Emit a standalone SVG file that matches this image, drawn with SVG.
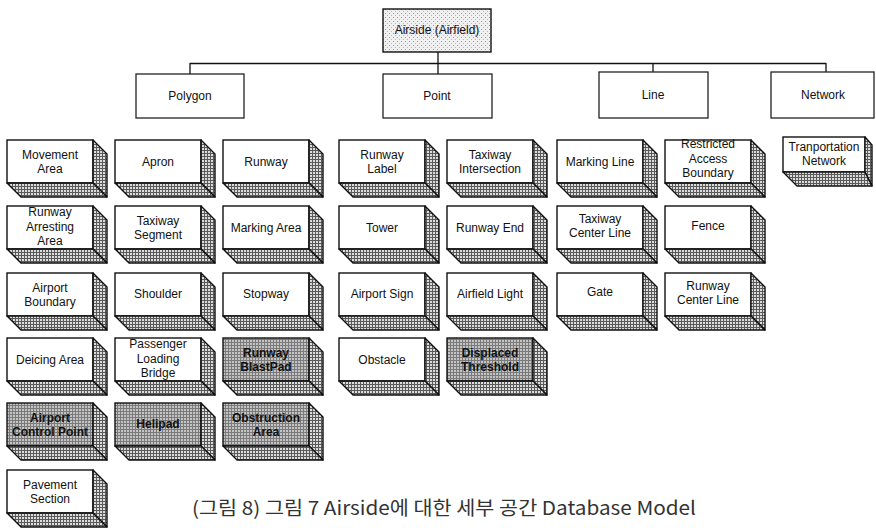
<svg xmlns="http://www.w3.org/2000/svg" width="876" height="528" viewBox="0 0 876 528">
<defs>
<pattern id="hatch" width="3" height="3" patternUnits="userSpaceOnUse"><rect width="3" height="3" fill="#dcdcdc"/><path d="M0 0.5H3M0.5 0V3" stroke="#5a5a5a" stroke-width="1"/></pattern>
<pattern id="shade" width="3" height="3" patternUnits="userSpaceOnUse"><rect width="3" height="3" fill="#c4c4c4"/><path d="M0 0.5H3M0.5 0V3" stroke="#7a7a7a" stroke-width="1"/></pattern>
<pattern id="dots" width="4" height="4" patternUnits="userSpaceOnUse"><rect width="4" height="4" fill="#f0f0f0"/><rect x="1" y="1" width="1" height="1" fill="#9a9a9a"/><rect x="3" y="3" width="1" height="1" fill="#b8b8b8"/></pattern>
</defs>
<style>
.f{fill:#fff;stroke:#111;stroke-width:1.4}
.fs{fill:url(#shade);stroke:#111;stroke-width:1.4}
.s{fill:url(#hatch);stroke:#111;stroke-width:1.4;stroke-linejoin:round}
.c{fill:#fff;stroke:#222;stroke-width:1.3}
.t{font-family:"Liberation Sans",Arial,sans-serif;font-size:12px;fill:#111;text-anchor:middle}
.tb{font-family:"Liberation Sans",Arial,sans-serif;font-size:12px;fill:#111;text-anchor:middle;font-weight:bold}
.cap{font-family:"Noto Sans CJK KR","Noto Sans",sans-serif;font-size:19px;fill:#333}
.ln{fill:none;stroke:#111;stroke-width:1.3}
</style>
<rect width="876" height="528" fill="#fff"/>

<g id="connectors">
<path class="ln" d="M190 63.5H826M190 63V74M438 52V74M653 63V72M826 63V72"/>
</g>

<g id="airside"><rect x="383" y="9" width="108" height="43" fill="url(#dots)" stroke="#111" stroke-width="1.4"/><text class="t" x="437" y="34">Airside (Airfield)</text></g>
<g id="polygon"><rect class="c" x="136" y="74" width="108" height="44"/><text class="t" x="190" y="100">Polygon</text></g>
<g id="point"><rect class="c" x="383" y="74" width="109" height="44"/><text class="t" x="437" y="100">Point</text></g>
<g id="line"><rect class="c" x="599" y="72" width="109" height="46"/><text class="t" x="653" y="99">Line</text></g>
<g id="network"><rect class="c" x="771" y="72" width="103" height="46"/><text class="t" x="823" y="99">Network</text></g>

<!-- Column 1 -->
<g id="movement-area"><rect class="f" x="7" y="140" width="86" height="43"/><polygon class="s" points="93,140 107,154 107,197 93,183"/><polygon class="s" points="7,183 93,183 107,197 21,197"/><text class="t" x="50" y="158.5">Movement</text><text class="t" x="50" y="172.5">Area</text></g>
<g id="runway-arresting-area"><rect class="f" x="7" y="206" width="86" height="43"/><polygon class="s" points="93,206 107,220 107,263 93,249"/><polygon class="s" points="7,249 93,249 107,263 21,263"/><text class="t" x="50" y="216">Runway</text><text class="t" x="50" y="230.5">Arresting</text><text class="t" x="50" y="245">Area</text></g>
<g id="airport-boundary"><rect class="f" x="7" y="273" width="86" height="43"/><polygon class="s" points="93,273 107,287 107,330 93,316"/><polygon class="s" points="7,316 93,316 107,330 21,330"/><text class="t" x="50" y="291.5">Airport</text><text class="t" x="50" y="305.5">Boundary</text></g>
<g id="deicing-area"><rect class="f" x="7" y="338" width="86" height="43"/><polygon class="s" points="93,338 107,352 107,395 93,381"/><polygon class="s" points="7,381 93,381 107,395 21,395"/><text class="t" x="50" y="364">Deicing Area</text></g>
<g id="airport-control-point"><rect class="fs" x="7" y="403" width="86" height="43"/><polygon class="s" points="93,403 107,417 107,460 93,446"/><polygon class="s" points="7,446 93,446 107,460 21,460"/><text class="tb" x="50" y="421.5">Airport</text><text class="tb" x="50" y="435.5">Control Point</text></g>
<g id="pavement-section"><rect class="f" x="7" y="470" width="86" height="43"/><polygon class="s" points="93,470 107,484 107,527 93,513"/><polygon class="s" points="7,513 93,513 107,527 21,527"/><text class="t" x="50" y="488.5">Pavement</text><text class="t" x="50" y="502.5">Section</text></g>

<!-- Column 2 -->
<g id="apron"><rect class="f" x="115" y="140" width="86" height="43"/><polygon class="s" points="201,140 215,154 215,197 201,183"/><polygon class="s" points="115,183 201,183 215,197 129,197"/><text class="t" x="158" y="166">Apron</text></g>
<g id="taxiway-segment"><rect class="f" x="115" y="206" width="86" height="43"/><polygon class="s" points="201,206 215,220 215,263 201,249"/><polygon class="s" points="115,249 201,249 215,263 129,263"/><text class="t" x="158" y="224.5">Taxiway</text><text class="t" x="158" y="238.5">Segment</text></g>
<g id="shoulder"><rect class="f" x="115" y="273" width="86" height="43"/><polygon class="s" points="201,273 215,287 215,330 201,316"/><polygon class="s" points="115,316 201,316 215,330 129,330"/><text class="t" x="158" y="298">Shoulder</text></g>
<g id="passenger-loading-bridge"><rect class="f" x="115" y="338" width="86" height="43"/><polygon class="s" points="201,338 215,352 215,395 201,381"/><polygon class="s" points="115,381 201,381 215,395 129,395"/><text class="t" x="158" y="348">Passenger</text><text class="t" x="158" y="362.5">Loading</text><text class="t" x="158" y="377">Bridge</text></g>
<g id="helipad"><rect class="fs" x="115" y="403" width="86" height="43"/><polygon class="s" points="201,403 215,417 215,460 201,446"/><polygon class="s" points="115,446 201,446 215,460 129,460"/><text class="tb" x="158" y="428">Helipad</text></g>

<!-- Column 3 -->
<g id="runway"><rect class="f" x="223" y="140" width="86" height="43"/><polygon class="s" points="309,140 323,154 323,197 309,183"/><polygon class="s" points="223,183 309,183 323,197 237,197"/><text class="t" x="266" y="166">Runway</text></g>
<g id="marking-area"><rect class="f" x="223" y="206" width="86" height="43"/><polygon class="s" points="309,206 323,220 323,263 309,249"/><polygon class="s" points="223,249 309,249 323,263 237,263"/><text class="t" x="266" y="232">Marking Area</text></g>
<g id="stopway"><rect class="f" x="223" y="273" width="86" height="43"/><polygon class="s" points="309,273 323,287 323,330 309,316"/><polygon class="s" points="223,316 309,316 323,330 237,330"/><text class="t" x="266" y="298">Stopway</text></g>
<g id="runway-blastpad"><rect class="fs" x="223" y="338" width="86" height="43"/><polygon class="s" points="309,338 323,352 323,395 309,381"/><polygon class="s" points="223,381 309,381 323,395 237,395"/><text class="tb" x="266" y="356.5">Runway</text><text class="tb" x="266" y="370.5">BlastPad</text></g>
<g id="obstruction-area"><rect class="fs" x="223" y="403" width="86" height="43"/><polygon class="s" points="309,403 323,417 323,460 309,446"/><polygon class="s" points="223,446 309,446 323,460 237,460"/><text class="tb" x="266" y="421.5">Obstruction</text><text class="tb" x="266" y="435.5">Area</text></g>

<!-- Column 4 -->
<g id="runway-label"><rect class="f" x="339" y="140" width="86" height="43"/><polygon class="s" points="425,140 439,154 439,197 425,183"/><polygon class="s" points="339,183 425,183 439,197 353,197"/><text class="t" x="382" y="158.5">Runway</text><text class="t" x="382" y="172.5">Label</text></g>
<g id="tower"><rect class="f" x="339" y="206" width="86" height="43"/><polygon class="s" points="425,206 439,220 439,263 425,249"/><polygon class="s" points="339,249 425,249 439,263 353,263"/><text class="t" x="382" y="232">Tower</text></g>
<g id="airport-sign"><rect class="f" x="339" y="273" width="86" height="43"/><polygon class="s" points="425,273 439,287 439,330 425,316"/><polygon class="s" points="339,316 425,316 439,330 353,330"/><text class="t" x="382" y="298">Airport Sign</text></g>
<g id="obstacle"><rect class="f" x="339" y="338" width="86" height="43"/><polygon class="s" points="425,338 439,352 439,395 425,381"/><polygon class="s" points="339,381 425,381 439,395 353,395"/><text class="t" x="382" y="364">Obstacle</text></g>

<!-- Column 5 -->
<g id="taxiway-intersection"><rect class="f" x="447" y="140" width="86" height="43"/><polygon class="s" points="533,140 547,154 547,197 533,183"/><polygon class="s" points="447,183 533,183 547,197 461,197"/><text class="t" x="490" y="158.5">Taxiway</text><text class="t" x="490" y="172.5">Intersection</text></g>
<g id="runway-end"><rect class="f" x="447" y="206" width="86" height="43"/><polygon class="s" points="533,206 547,220 547,263 533,249"/><polygon class="s" points="447,249 533,249 547,263 461,263"/><text class="t" x="490" y="232">Runway End</text></g>
<g id="airfield-light"><rect class="f" x="447" y="273" width="86" height="43"/><polygon class="s" points="533,273 547,287 547,330 533,316"/><polygon class="s" points="447,316 533,316 547,330 461,330"/><text class="t" x="490" y="298">Airfield Light</text></g>
<g id="displaced-threshold"><rect class="fs" x="447" y="338" width="86" height="43"/><polygon class="s" points="533,338 547,352 547,395 533,381"/><polygon class="s" points="447,381 533,381 547,395 461,395"/><text class="tb" x="490" y="356.5">Displaced</text><text class="tb" x="490" y="370.5">Threshold</text></g>

<!-- Column 6 -->
<g id="marking-line"><rect class="f" x="557" y="140" width="86" height="43"/><polygon class="s" points="643,140 657,154 657,197 643,183"/><polygon class="s" points="557,183 643,183 657,197 571,197"/><text class="t" x="600" y="166">Marking Line</text></g>
<g id="taxiway-center-line"><rect class="f" x="557" y="206" width="86" height="43"/><polygon class="s" points="643,206 657,220 657,263 643,249"/><polygon class="s" points="557,249 643,249 657,263 571,263"/><text class="t" x="600" y="222.5">Taxiway</text><text class="t" x="600" y="236.5">Center Line</text></g>
<g id="gate"><rect class="f" x="557" y="273" width="86" height="43"/><polygon class="s" points="643,273 657,287 657,330 643,316"/><polygon class="s" points="557,316 643,316 657,330 571,330"/><text class="t" x="600" y="296">Gate</text></g>

<!-- Column 7 -->
<g id="restricted-access-boundary"><rect class="f" x="665" y="140" width="86" height="43"/><polygon class="s" points="751,140 765,154 765,197 751,183"/><polygon class="s" points="665,183 751,183 765,197 679,197"/><text class="t" x="708" y="148">Restricted</text><text class="t" x="708" y="162.5">Access</text><text class="t" x="708" y="177">Boundary</text></g>
<g id="fence"><rect class="f" x="665" y="206" width="86" height="43"/><polygon class="s" points="751,206 765,220 765,263 751,249"/><polygon class="s" points="665,249 751,249 765,263 679,263"/><text class="t" x="708" y="230">Fence</text></g>
<g id="runway-center-line"><rect class="f" x="665" y="273" width="86" height="43"/><polygon class="s" points="751,273 765,287 765,330 751,316"/><polygon class="s" points="665,316 751,316 765,330 679,330"/><text class="t" x="708" y="289.5">Runway</text><text class="t" x="708" y="303.5">Center Line</text></g>

<!-- Column 8 -->
<g id="tranportation-network"><rect class="f" x="783" y="137" width="82" height="35"/><polygon class="s" points="865,137 872,145 872,186 865,172"/><polygon class="s" points="783,172 865,172 872,186 797,186"/><text class="t" x="824" y="151">Tranportation</text><text class="t" x="824" y="164.5">Network</text></g>

<text class="cap" x="192" y="515" textLength="504" lengthAdjust="spacingAndGlyphs">(그림 8) 그림 7 Airside에 대한 세부 공간 Database Model</text>
</svg>
